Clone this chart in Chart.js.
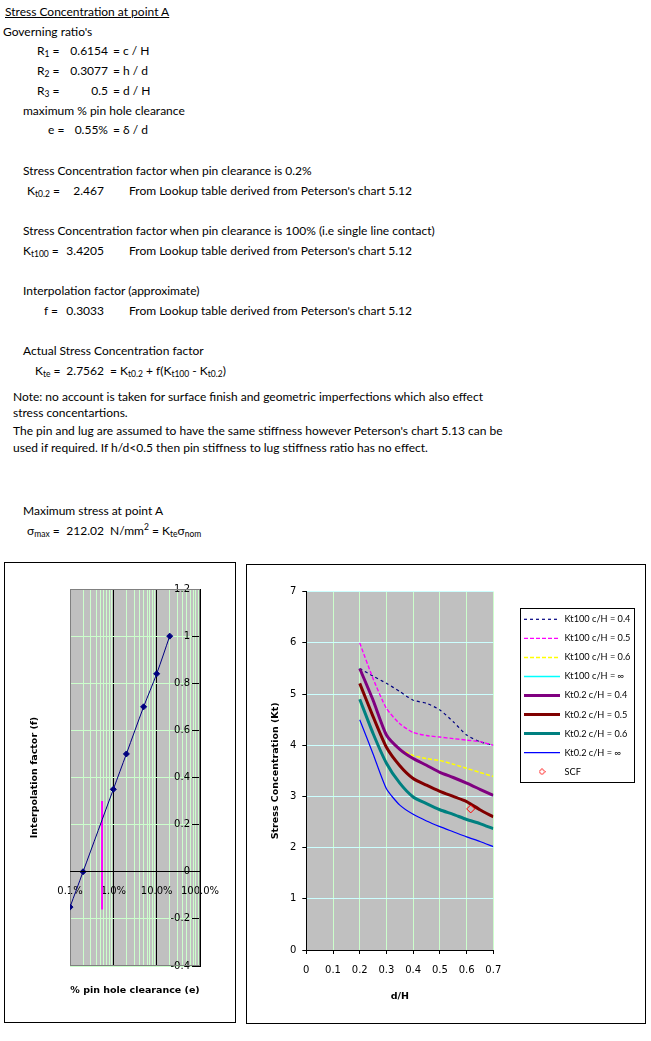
<!DOCTYPE html>
<html>
<head>
<meta charset="utf-8">
<title>Stress Concentration at point A</title>
<script src="https://cdn.jsdelivr.net/npm/chart.js@4.4.1/dist/chart.umd.min.js"></script>
<style>
  body { margin: 0; background: #fff; font-family: Lato, "Liberation Sans", sans-serif; font-size: 12px; color: #000; }
  #page { position: relative; width: 651px; height: 1041px; overflow: hidden; }
  .t { position: absolute; line-height: 14px; white-space: nowrap; }
  .v { width: 50px; text-align: right; }
  sub { font-size: 8.5px; vertical-align: -2px; line-height: 0; }
  sup { font-size: 8.5px; vertical-align: 5px; line-height: 0; }
  .box { position: absolute; border: 1px solid #000; }
  .box canvas { display: block; }
</style>
</head>
<body>
<div id="page">
  <div class="t" style="left:5px;top:5px;text-decoration:underline">Stress Concentration at point A</div>
  <div class="t" style="left:3px;top:25px">Governing ratio's</div>

  <div class="t" style="left:37px;top:44px">R<sub>1</sub> =</div>
  <div class="t v" style="left:58px;top:44px">0.6154</div>
  <div class="t" style="left:113px;top:44px">= c / H</div>
  <div class="t" style="left:37px;top:64px">R<sub>2</sub> =</div>
  <div class="t v" style="left:58px;top:64px">0.3077</div>
  <div class="t" style="left:113px;top:64px">= h / d</div>
  <div class="t" style="left:37px;top:84px">R<sub>3</sub> =</div>
  <div class="t v" style="left:58px;top:84px">0.5</div>
  <div class="t" style="left:113px;top:84px">= d / H</div>
  <div class="t" style="left:23px;top:104px">maximum % pin hole clearance</div>
  <div class="t" style="left:48px;top:123px">e =</div>
  <div class="t v" style="left:58px;top:123px">0.55%</div>
  <div class="t" style="left:113px;top:123px">= δ / d</div>

  <div class="t" style="left:23px;top:164px">Stress Concentration factor when pin clearance is 0.2%</div>
  <div class="t" style="left:27px;top:184px">K<sub>t0.2</sub> =</div>
  <div class="t v" style="left:54px;top:184px">2.467</div>
  <div class="t" style="left:129px;top:184px">From Lookup table derived from Peterson's chart 5.12</div>

  <div class="t" style="left:23px;top:224px">Stress Concentration factor when pin clearance is 100% (i.e single line contact)</div>
  <div class="t" style="left:23px;top:244px">K<sub>t100</sub> =</div>
  <div class="t v" style="left:54px;top:244px">3.4205</div>
  <div class="t" style="left:129px;top:244px">From Lookup table derived from Peterson's chart 5.12</div>

  <div class="t" style="left:23px;top:284px">Interpolation factor (approximate)</div>
  <div class="t" style="left:44px;top:304px">f =</div>
  <div class="t v" style="left:54px;top:304px">0.3033</div>
  <div class="t" style="left:129px;top:304px">From Lookup table derived from Peterson's chart 5.12</div>

  <div class="t" style="left:23px;top:344px">Actual Stress Concentration factor</div>
  <div class="t" style="left:35px;top:364px">K<sub>te</sub> =</div>
  <div class="t v" style="left:54px;top:364px">2.7562</div>
  <div class="t" style="left:110px;top:364px">= K<sub>t0.2</sub> + f(K<sub>t100</sub> - K<sub>t0.2</sub>)</div>

  <div class="t" style="left:13px;top:390px">Note: no account is taken for surface finish and geometric imperfections which also effect</div>
  <div class="t" style="left:13px;top:406px">stress concentartions.</div>
  <div class="t" style="left:13px;top:424px">The pin and lug are assumed to have the same stiffness however Peterson's chart 5.13 can be</div>
  <div class="t" style="left:13px;top:441px">used if required. If h/d&lt;0.5 then pin stiffness to lug stiffness ratio has no effect.</div>

  <div class="t" style="left:23px;top:504px">Maximum stress at point A</div>
  <div class="t" style="left:27px;top:524px">σ<sub>max</sub> =</div>
  <div class="t v" style="left:54px;top:524px">212.02</div>
  <div class="t" style="left:110px;top:524px">N/mm<sup>2</sup> = K<sub>te</sub>σ<sub>nom</sub></div>

  <div class="box" style="left:4px;top:562px;width:230px;height:459px">
    <canvas id="interpChart" width="230" height="459"></canvas>
  </div>
  <div class="box" style="left:246px;top:564px;width:398px;height:458px">
    <canvas id="ktChart" width="398" height="458"></canvas>
  </div>
</div>
<script>
Chart.defaults.font.family = '"DejaVu Sans", Verdana, sans-serif';
Chart.defaults.font.size = 10;
Chart.defaults.color = '#000';
Chart.defaults.animation = false;

// interpolation factor against pin hole clearance (clearance as a fraction)
const clearance = [0.001, 0.002, 0.01, 0.02, 0.05, 0.1, 0.2];
const interpFactor = [-0.15, 0, 0.35, 0.5, 0.7, 0.84, 1];
const designClearance = [0.0055, 0.0055];
const designMarker = [0.3, -0.16];
const clearanceDecades = [0.001, 0.01, 0.1, 1];
const clearanceLabels = ['0.1%', '1.0%', '10.0%', '100.0%'];

// stress concentration against d/H
const dH = [0.2, 0.25, 0.3, 0.35, 0.4, 0.45, 0.5, 0.55, 0.6, 0.65, 0.7];
const kt100_04 = [5.5, 5.35, 5.21, 5.05, 4.88, 4.82, 4.69, 4.46, 4.2, 4.07, 4.0];
const kt100_05 = [6.0, 5.3, 4.72, 4.42, 4.25, 4.19, 4.16, 4.13, 4.1, 4.07, 4.0];
const kt100_06 = [null, null, null, 3.92, 3.8, 3.74, 3.7, 3.63, 3.55, 3.47, 3.39];
const kt100_inf = [5.5, 4.88, 4.2, 3.92, 3.74, 3.61, 3.47, 3.37, 3.26, 3.14, 3.02];
const kt02_04 = [5.5, 4.88, 4.2, 3.92, 3.74, 3.61, 3.47, 3.37, 3.26, 3.14, 3.02];
const kt02_05 = [5.21, 4.56, 3.96, 3.6, 3.35, 3.22, 3.1, 3.0, 2.9, 2.74, 2.6];
const kt02_06 = [4.9, 4.23, 3.65, 3.26, 2.99, 2.86, 2.74, 2.65, 2.55, 2.47, 2.37];
const kt02_inf = [4.5, 3.83, 3.15, 2.83, 2.65, 2.52, 2.41, 2.31, 2.21, 2.12, 2.02];
const scfX = [0.6154];
const scfY = [2.7562];
const seriesNames = ['Kt100 c/H = 0.4', 'Kt100 c/H = 0.5', 'Kt100 c/H = 0.6', 'Kt100 c/H = ∞',
  'Kt0.2 c/H = 0.4', 'Kt0.2 c/H = 0.5', 'Kt0.2 c/H = 0.6', 'Kt0.2 c/H = ∞', 'SCF'];

function pontos(xs, ys) {
  return xs.map((x, i) => ({x: x, y: ys[i]})).filter(p => p.y !== null);
}

// grey plot area like the spreadsheet chart
const plotArea = {
  id: 'plotArea',
  beforeDraw(chart, args, opts) {
    const {ctx, chartArea: a} = chart;
    ctx.save();
    ctx.fillStyle = opts.fill;
    ctx.fillRect(a.left, a.top, a.right - a.left, a.bottom - a.top);
    ctx.restore();
  },
  beforeDatasetsDraw(chart, args, opts) {
    if (!opts.edge) return;
    const {ctx, chartArea: a} = chart;
    ctx.save();
    ctx.strokeStyle = opts.edge;
    ctx.lineWidth = 1;
    ctx.strokeRect(Math.round(a.left) + 0.5, Math.round(a.top) + 0.5,
      Math.round(a.right - a.left) - 1, Math.round(a.bottom - a.top) - 1);
    ctx.restore();
  }
};

const legendFrame = {
  id: 'legendFrame',
  afterDraw(chart) {
    const hb = chart.legend && chart.legend.legendHitBoxes;
    if (!hb || !hb.length) return;
    const ctx = chart.ctx;
    const left = Math.min(...hb.map(b => b.left)) - 4;
    const right = Math.max(...hb.map(b => b.left + b.width)) + 4;
    const top = hb[0].top - 7;
    const last = hb[hb.length - 1];
    const bottom = last.top + last.height + 5;
    ctx.save();
    ctx.strokeStyle = '#000';
    ctx.lineWidth = 1;
    ctx.strokeRect(Math.round(left) + 0.5, Math.round(top) + 0.5, Math.round(right - left), Math.round(bottom - top));
    ctx.restore();
  }
};

const titleFont = {family: '"DejaVu Sans", Verdana, sans-serif', size: 9.5, weight: 'bold', lineHeight: 1.2};

new Chart(document.getElementById('interpChart'), {
  type: 'scatter',
  data: {
    datasets: [{
      data: pontos(clearance, interpFactor),
      showLine: true,
      tension: 0.3,
      borderColor: '#000080',
      borderWidth: 1,
      pointStyle: 'rectRot',
      pointRadius: 3,
      pointBackgroundColor: '#000080',
      pointBorderColor: '#000080'
    }, {
      data: pontos(designClearance, designMarker),
      showLine: true,
      borderColor: '#FF00FF',
      borderWidth: 2,
      pointRadius: 0
    }]
  },
  options: {
    responsive: false,
    devicePixelRatio: 1,
    events: [],
    layout: {padding: {left: 0, right: 35, top: 26, bottom: 25.3}},
    scales: {
      x: {
        type: 'logarithmic',
        min: 0.001,
        max: 1,
        position: {y: 0},
        afterBuildTicks(scale) {
          const ticks = [];
          clearanceDecades.forEach((d, i) => {
            ticks.push({value: d, major: true});
            if (i < clearanceDecades.length - 1) {
              for (let m = 2; m <= 9; m++) ticks.push({value: d * m, major: false});
            }
          });
          scale.ticks = ticks;
        },
        ticks: {
          autoSkip: false,
          maxRotation: 0,
          minRotation: 0,
          padding: 14,
          callback(v) {
            const k = clearanceDecades.indexOf(v);
            return k >= 0 ? clearanceLabels[k] : '';
          }
        },
        grid: {
          drawTicks: false,
          color(ctx) {
            if (!ctx.tick) return '#CCFFCC';
            if (ctx.tick.value === clearanceDecades[0]) return '#808080';
            return ctx.tick.major ? '#000000' : '#CCFFCC';
          }
        },
        border: {color: '#000', width: 1, z: 1}
      },
      y: {
        min: -0.4,
        max: 1.2,
        position: {x: 1},
        ticks: {
          stepSize: 0.2,
          // labels sit left of the inward tick marks
          callback(v) {
            return String(Math.round(v * 10) / 10) + '\u2002\u2002';
          }
        },
        grid: {color: '#CCFFCC', tickLength: 8, tickColor: '#000', z: -1},
        border: {color: '#000', width: 1, z: 1}
      }
    },
    plugins: {
      legend: {display: false},
      tooltip: {enabled: false},
      plotArea: {fill: '#C0C0C0', edge: '#808080'},
      title: {
        display: true,
        position: 'left',
        fullSize: false,
        text: 'Interpolation factor (f)',
        color: '#000',
        font: titleFont,
        padding: {top: 24.3, bottom: 29.3}
      },
      subtitle: {
        display: true,
        position: 'bottom',
        fullSize: false,
        text: '% pin hole clearance (e)',
        color: '#000',
        font: titleFont,
        padding: {top: 19.3, bottom: 0}
      }
    }
  },
  plugins: [plotArea]
});

// small red diamond for the SCF legend entry
const scfMark = document.createElement('canvas');
scfMark.width = 7;
scfMark.height = 7;
const mctx = scfMark.getContext('2d');
mctx.strokeStyle = '#FF0000';
mctx.lineWidth = 1;
mctx.beginPath();
mctx.moveTo(3.5, 0.5);
mctx.lineTo(6.5, 3.5);
mctx.lineTo(3.5, 6.5);
mctx.lineTo(0.5, 3.5);
mctx.closePath();
mctx.stroke();

const ktLines = [
  {ys: kt100_04, color: '#000080', width: 1.2, dash: [3, 3]},
  {ys: kt100_05, color: '#FF00FF', width: 1.4, dash: [4, 2]},
  {ys: kt100_06, color: '#FFFF00', width: 1.5, dash: [4, 2]},
  {ys: kt100_inf, color: '#00FFFF', width: 1.5, dash: []},
  {ys: kt02_04, color: '#800080', width: 3, dash: []},
  {ys: kt02_05, color: '#800000', width: 3, dash: []},
  {ys: kt02_06, color: '#008080', width: 3, dash: []},
  {ys: kt02_inf, color: '#0000FF', width: 1.2, dash: []}
];

const ktDatasets = ktLines.map((s, i) => ({
  label: seriesNames[i],
  data: pontos(dH, s.ys),
  showLine: true,
  tension: 0.2,
  borderColor: s.color,
  borderWidth: s.width,
  borderDash: s.dash,
  pointRadius: 0,
  order: -i
}));
ktDatasets.push({
  label: seriesNames[8],
  data: pontos(scfX, scfY),
  showLine: false,
  pointStyle: 'rectRot',
  pointRadius: 4,
  borderColor: '#FF0000',
  backgroundColor: 'rgba(0,0,0,0)',
  pointBorderWidth: 1,
  order: -20
});

// legend sizing: keep the plot right edge fixed whatever the text width is
const legendFont = {family: 'Lato, "Liberation Sans", sans-serif', size: 9.2};
const legendPad = 9.85;
const legendLine = 36;
const medidor = document.createElement('canvas').getContext('2d');
medidor.font = legendFont.size + 'px ' + legendFont.family;
const legendTextW = Math.max(...seriesNames.map(s => medidor.measureText(s).width));
const legendW = Math.ceil(legendPad + legendLine + legendFont.size / 2 + legendTextW + 1);
const plotRight = 246.3;
const legendGap = 20.85;
const rightPad = 398 - plotRight - legendGap - legendW;

new Chart(document.getElementById('ktChart'), {
  type: 'scatter',
  data: {datasets: ktDatasets},
  options: {
    responsive: false,
    devicePixelRatio: 1,
    events: [],
    layout: {padding: {left: 0, right: rightPad, top: 26.7, bottom: 0}},
    scales: {
      x: {
        type: 'linear',
        position: 'bottom',
        min: 0,
        max: 0.7,
        afterFit(scale) { scale.height = 73; },
        ticks: {stepSize: 0.1, padding: 10, maxRotation: 0},
        grid: {color: '#CCFFCC', tickLength: 4, tickColor: '#000'},
        border: {color: '#000', width: 1, z: 1},
        title: {display: true, text: 'd/H', color: '#000', font: titleFont, padding: {top: 0, bottom: 20.6}}
      },
      y: {
        type: 'linear',
        position: 'left',
        min: 0,
        max: 7,
        afterFit(scale) { scale.width = 59.3; },
        ticks: {stepSize: 1, padding: 6},
        grid: {color: '#CCFFFF', tickLength: 4, tickColor: '#000'},
        border: {color: '#000', width: 1, z: 1},
        title: {display: true, text: 'Stress Concentration (Kt)', color: '#000', font: titleFont, padding: {top: 23.3, bottom: 0}}
      },
      gap: {
        type: 'linear',
        position: 'right',
        afterFit(scale) { scale.width = legendGap; },
        ticks: {display: false},
        grid: {display: false},
        border: {display: false}
      }
    },
    plugins: {
      tooltip: {enabled: false},
      plotArea: {fill: '#C0C0C0'},
      legend: {
        position: 'right',
        align: 'start',
        fullSize: false,
        maxWidth: legendW,
        title: {display: true, text: ' ', font: {size: 10, lineHeight: 1}, padding: {top: 3.15, bottom: 0}},
        labels: {
          usePointStyle: true,
          pointStyleWidth: legendLine,
          padding: legendPad,
          color: '#000',
          font: legendFont,
          generateLabels(chart) {
            return chart.data.datasets.map((ds, i) => ({
              text: ds.label,
              datasetIndex: i,
              hidden: false,
              fontColor: '#000',
              strokeStyle: ds.borderColor,
              fillStyle: ds.borderColor,
              lineWidth: ds.showLine ? ds.borderWidth : 1,
              lineDash: ds.borderDash || [],
              pointStyle: ds.showLine ? 'line' : scfMark
            }));
          }
        }
      }
    }
  },
  plugins: [plotArea, legendFrame]
});
</script>
</body>
</html>
